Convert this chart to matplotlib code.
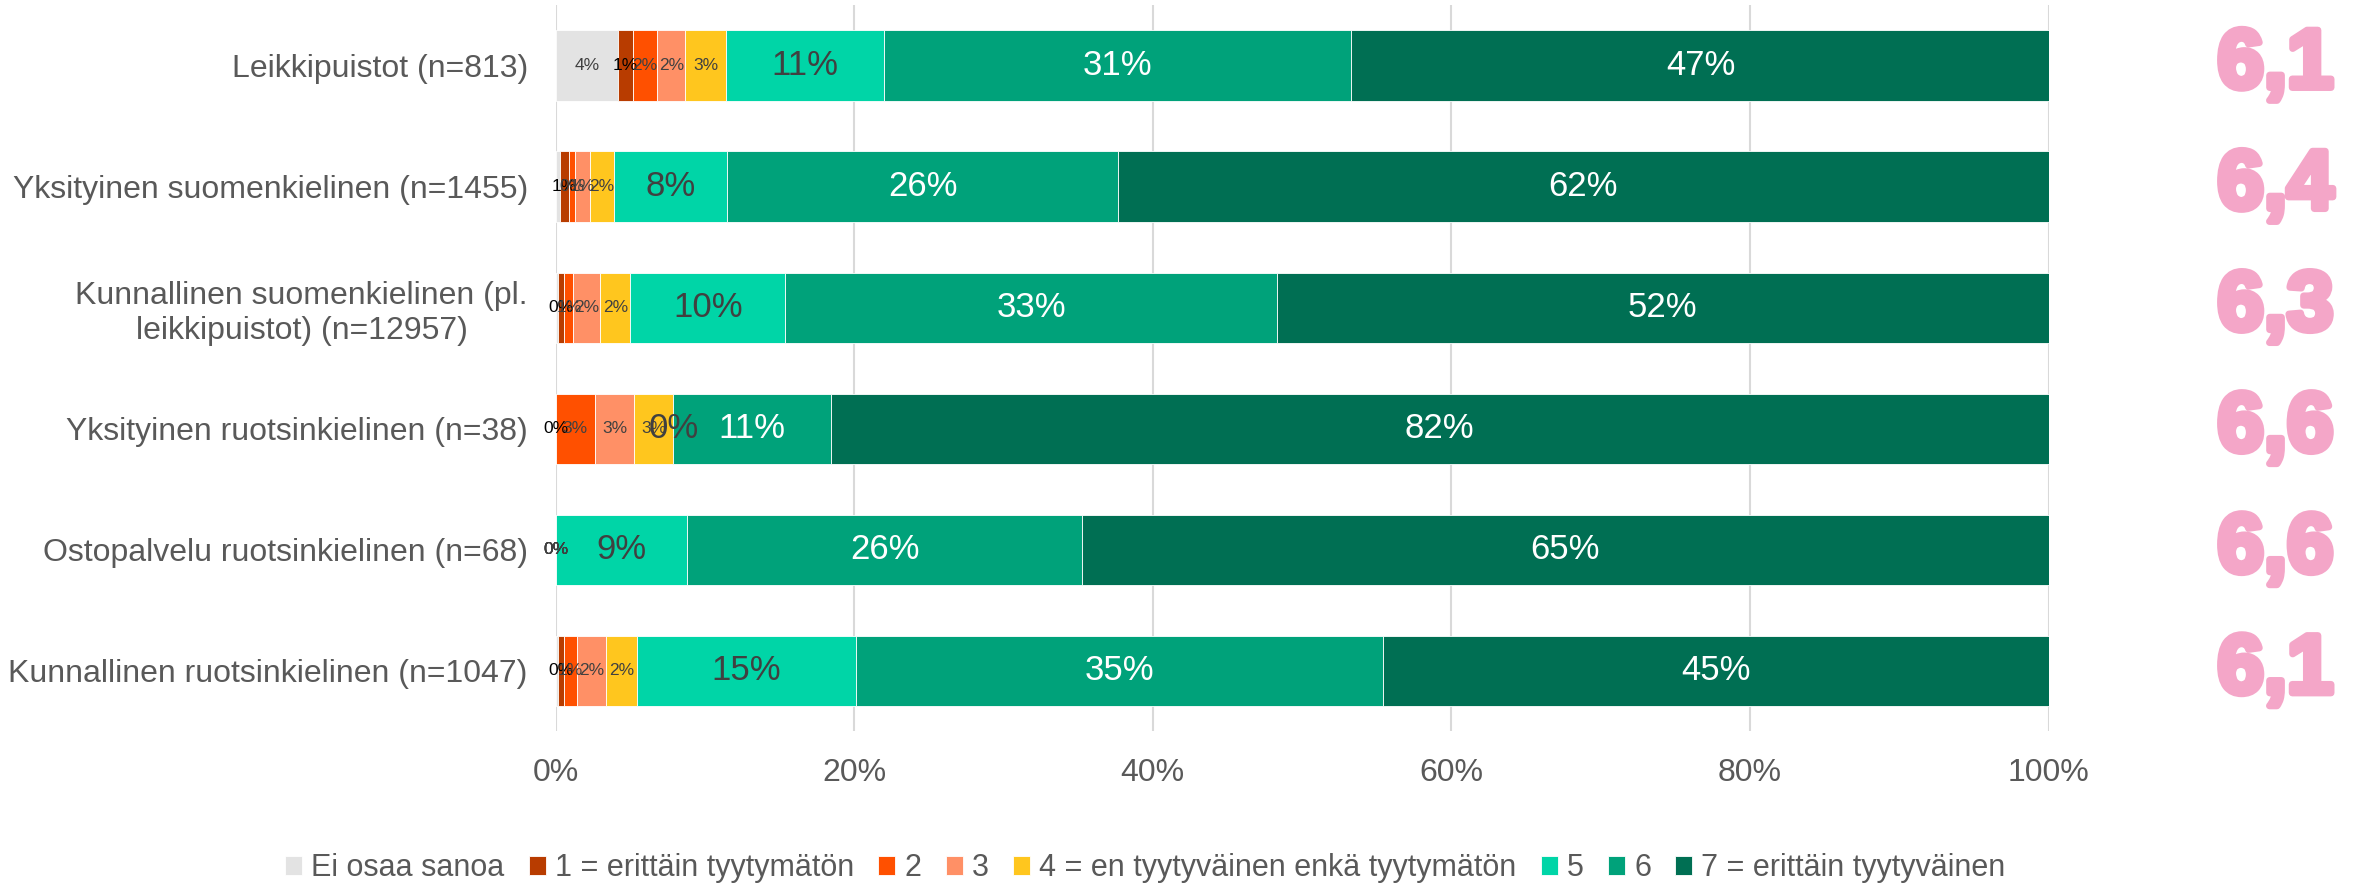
import numpy as np
import matplotlib
matplotlib.use("Agg")
import matplotlib.pyplot as plt
import matplotlib.patheffects as pe

plt.rcParams["font.family"] = ["Liberation Sans", "DejaVu Sans"]

# rows, top to bottom
groups = [
    "Leikkipuistot (n=813)",
    "Yksityinen suomenkielinen (n=1455)",
    "Kunnallinen suomenkielinen (pl.\nleikkipuistot) (n=12957)",
    "Yksityinen ruotsinkielinen (n=38)",
    "Ostopalvelu ruotsinkielinen (n=68)",
    "Kunnallinen ruotsinkielinen (n=1047)",
]
categories = ["Ei osaa sanoa", "1 = erittäin tyytymätön", "2", "3",
              "4 = en tyytyväinen enkä tyytymätön", "5", "6",
              "7 = erittäin tyytyväinen"]

# shares in percent, one list per answer category (same order as groups)
ei_osaa = [4.2, 0.3, 0.15, 0.0, 0.0, 0.15]
val_1 = [1.0, 0.6, 0.45, 0.0, 0.0, 0.4]
val_2 = [1.6, 0.4, 0.6, 2.63, 0.0, 0.9]
val_3 = [1.9, 1.0, 1.8, 2.63, 0.0, 1.9]
val_4 = [2.7, 1.6, 2.0, 2.63, 0.0, 2.1]
val_5 = [10.6, 7.6, 10.4, 0.0, 8.82, 14.7]
val_6 = [31.3, 26.2, 32.9, 10.53, 26.47, 35.3]
val_7 = [46.8, 62.3, 51.7, 81.58, 64.71, 44.55]

# mean scores shown on the right
means = [6.1, 6.4, 6.3, 6.6, 6.6, 6.1]

colors = ["#E3E3E3", "#B83C00", "#FF5000", "#FF9066", "#FFC61E",
          "#00D5A7", "#00A27A", "#006F53"]
label_colors = ["#404040", "#000000", "#404040", "#404040", "#404040",
                "#404040", "#FFFFFF", "#FFFFFF"]
label_sizes = [12.5, 12.5, 12.5, 12.5, 12.5, 25, 25, 25]
grey = "#595959"
pink = "#F4A6C8"

series = [ei_osaa, val_1, val_2, val_3, val_4, val_5, val_6, val_7]

fig = plt.figure(figsize=(23.68, 8.85), dpi=100)
ax = fig.add_axes([0.2346, 0.1735, 0.6305, 0.8209])

y = np.arange(len(groups))
left = np.zeros(len(groups))
for k, vals in enumerate(series):
    vals = np.array(vals)
    ax.barh(y, vals, left=left, height=0.58, color=colors[k],
            edgecolor="white", linewidth=0.6, label=categories[k], zorder=3)
    for i, v in enumerate(vals):
        pct = int(np.floor(v + 0.5))
        # "Ei osaa sanoa" gets no label when it rounds to zero
        if k == 0 and pct == 0:
            continue
        ax.text(left[i] + v / 2, y[i], "%d%%" % pct, ha="center", va="center",
                fontsize=label_sizes[k], color=label_colors[k], zorder=4)
    left += vals

for i, m in enumerate(means):
    ax.text(115.2, y[i], ("%.1f" % m).replace(".", ","), ha="center",
            va="center", fontsize=60, fontweight="bold", color=pink,
            clip_on=False,
            path_effects=[pe.withStroke(linewidth=5, foreground=pink)])

ax.set_xlim(0, 100)
ax.set_ylim(len(groups) - 0.5, -0.5)
ax.set_xticks(np.arange(0, 101, 20))
ax.set_xticklabels(["%d%%" % t for t in range(0, 101, 20)])
ax.set_yticks(y)
ax.set_yticklabels(groups)
for lab in ax.get_yticklabels():
    lab.set_multialignment("center")
ax.tick_params(axis="x", length=0, pad=19, labelsize=23, labelcolor=grey)
ax.tick_params(axis="y", length=0, pad=20, labelsize=23, labelcolor=grey)
ax.grid(axis="x", color="#D9D9D9", linewidth=1.5, zorder=0)
for s in ax.spines.values():
    s.set_visible(False)

leg = fig.legend(loc="center", bbox_to_anchor=(0.4837, 0.019), ncol=8,
                 frameon=False, fontsize=22, handlelength=0.55,
                 handleheight=0.55, handletextpad=0.3, columnspacing=0.8,
                 borderpad=0)
for t in leg.get_texts():
    t.set_color(grey)

fig.savefig("out.png", dpi=100)
